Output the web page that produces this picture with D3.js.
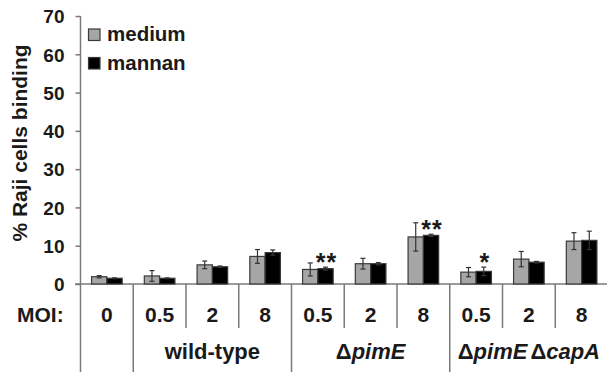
<!DOCTYPE html>
<html><head><meta charset="utf-8">
<script src="https://cdn.jsdelivr.net/npm/d3@7"></script>
<style>
body{margin:0;background:#fff;}
svg text{font-family:"Liberation Sans",Arial,sans-serif;font-weight:bold;fill:#1a1a1a;}
</style></head>
<body><svg id="c" width="607" height="372"></svg>
<script>
const moi = ["0","0.5","2","8","0.5","2","8","0.5","2","8"];
const medium    = [1.9, 2.1, 5.0, 7.2, 3.8, 5.3, 12.3, 3.1, 6.5, 11.2];
const mediumErr = [0.3, 1.4, 1.0, 1.8, 1.7, 1.4, 3.7, 1.2, 2.0, 2.2];
const mannan    = [1.5, 1.5, 4.5, 8.2, 4.0, 5.3, 12.7, 3.3, 5.7, 11.4];
const mannanErr = [0.1, 0.1, 0.2, 0.7, 0.4, 0.3, 0.3, 1.1, 0.2, 2.4];
const signif    = ["", "", "", "", "**", "", "**", "*", "", ""];
const groupNames = ["wild-type", "pimE", "pimEcapA"];
const groupStart = [1, 4, 7];
const groupEnd   = [3, 6, 9];
const yTicks = [0,10,20,30,40,50,60,70];
const seriesNames = ["medium", "mannan"];
const seriesColors = ["#a6a6a6", "#000000"];

const svg = d3.select("#c");
const idx = d3.range(moi.length);
const x = d3.scaleBand().domain(idx).range([80.5, 608]).paddingInner(0).paddingOuter(0);
const y = d3.scaleLinear().domain([0,70]).range([284, 16]);
const lineCol = "#7a7a7a";
const bw = 15.3;

// y axis
const yAxis = d3.axisLeft(y).tickValues(yTicks).tickSize(5).tickPadding(11);
const ga = svg.append("g").attr("transform","translate(80.5,0)").call(yAxis);
ga.select(".domain").attr("stroke",lineCol).attr("stroke-width",1.5).attr("d","M0,16V284");
ga.selectAll(".tick line").attr("stroke",lineCol).attr("stroke-width",1.5);
ga.selectAll(".tick text").style("font-size","19px").attr("fill","#1a1a1a").attr("dy","0.36em");

// x axis baseline
svg.append("line").attr("x1",75).attr("x2",607).attr("y1",y(0)).attr("y2",y(0))
  .attr("stroke",lineCol).attr("stroke-width",1.5);

// y title
svg.append("text").attr("transform","translate(27,143) rotate(-90)")
  .attr("text-anchor","middle").style("font-size","21px").text("% Raji cells binding");

// bars
const series = [[medium, mediumErr],[mannan, mannanErr]];
series.forEach((s,si)=>{
  const g = svg.append("g");
  idx.forEach(i=>{
    const cx = x(i) + x.bandwidth()/2;
    const x0 = si===0 ? cx - bw : cx;
    g.append("rect").attr("x",x0).attr("width",bw)
      .attr("y",y(s[0][i])).attr("height",y(0)-y(s[0][i]))
      .attr("fill",seriesColors[si]).attr("stroke","#3a3a3a").attr("stroke-width",1.2);
    const ex = x0 + bw/2, top = y(s[0][i]+s[1][i]), bot = y(s[0][i]-s[1][i]);
    const ec = "#333";
    g.append("line").attr("x1",ex).attr("x2",ex).attr("y1",top).attr("y2",bot).attr("stroke",ec).attr("stroke-width",1.2);
    g.append("line").attr("x1",ex-2.5).attr("x2",ex+2.5).attr("y1",top).attr("y2",top).attr("stroke",ec).attr("stroke-width",1.2);
    g.append("line").attr("x1",ex-2.5).attr("x2",ex+2.5).attr("y1",bot).attr("y2",bot).attr("stroke",ec).attr("stroke-width",1.2);
  });
});

// significance stars
idx.forEach(i=>{
  if(!signif[i]) return;
  const cx = x(i) + x.bandwidth()/2 + bw/2 + 1;
  const top = y(mannan[i]+mannanErr[i]);
  svg.append("text").attr("x",cx).attr("y",top+4).attr("text-anchor","middle")
    .style("font-size","25px").style("letter-spacing","1px").text(signif[i]);
});

// legend
seriesNames.forEach((n,i)=>{
  const ly = 29 + i*28.5;
  svg.append("rect").attr("x",88.5).attr("y",ly).attr("width",11.5).attr("height",11.5)
    .attr("fill",seriesColors[i]).attr("stroke","#3a3a3a").attr("stroke-width",1.2);
  svg.append("text").attr("x",107).attr("y",ly+12).style("font-size","20.5px").text(n);
});

// table below
svg.append("text").attr("x",17).attr("y",322).style("font-size","21px").text("MOI:");
idx.forEach(i=>{
  svg.append("text").attr("x",x(i)+x.bandwidth()/2).attr("y",322).attr("text-anchor","middle")
    .style("font-size","21px").text(moi[i]);
});
// separators
idx.forEach(i=>{
  const xx = x(i);
  const full = i===0 || groupStart.includes(i);
  svg.append("line").attr("x1",xx).attr("x2",xx).attr("y1",y(0)).attr("y2", full ? 372 : 328)
    .attr("stroke",lineCol).attr("stroke-width",1.5);
});
// group labels
groupNames.forEach((gname,gi)=>{
  const cx = (x(groupStart[gi]) + x(groupEnd[gi]) + x.bandwidth())/2;
  const t = svg.append("text").attr("x",cx).attr("y",359).attr("text-anchor","middle").style("font-size","22px");
  if(gname==="wild-type"){ t.text("wild-type"); }
  else if(gname==="pimE"){
    t.append("tspan").text("\u0394");
    t.append("tspan").style("font-style","italic").text("pimE");
  } else {
    t.append("tspan").text("\u0394");
    t.append("tspan").style("font-style","italic").text("pimE");
    t.append("tspan").attr("dx",3).text("\u0394");
    t.append("tspan").style("font-style","italic").text("capA");
  }
});
</script></body></html>
